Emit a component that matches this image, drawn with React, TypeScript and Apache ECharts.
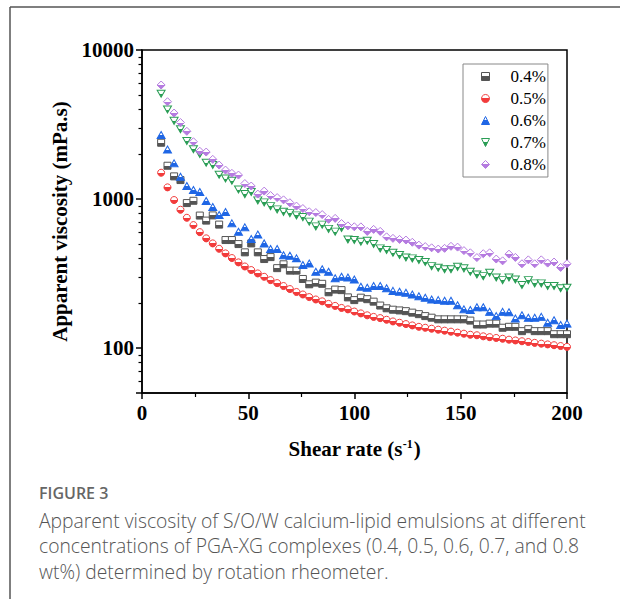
import React, { useEffect, useRef } from 'react';
import * as echarts from 'echarts';

const shearRate = [
  9.0, 12.0, 15.1, 18.1, 21.1, 24.2, 27.2, 30.2, 33.3, 36.3,
  39.3, 42.3, 45.4, 48.4, 51.4, 54.5, 57.5, 60.5, 63.6, 66.6,
  69.6, 72.7, 75.7, 78.7, 81.8, 84.8, 87.8, 90.9, 93.9, 96.9,
  99.9, 103.0, 106.0, 109.0, 112.1, 115.1, 118.1, 121.2, 124.2, 127.2,
  130.3, 133.3, 136.3, 139.4, 142.4, 145.4, 148.5, 151.5, 154.5, 157.6,
  160.6, 163.6, 166.7, 169.7, 172.7, 175.7, 178.8, 181.8, 184.8, 187.9,
  190.9, 193.9, 197.0, 200.0,
];

const visc04 = [
  2387, 1673, 1420, 1341, 940, 974, 775, 717, 777, 674,
  531, 531, 499, 439, 504, 439, 396, 408, 344, 365,
  331, 331, 291, 268, 275, 270, 237, 247, 245, 219,
  210, 218, 213, 205, 193, 185, 181, 179, 177, 173,
  169, 164, 160, 156, 156, 156, 156, 156, 153, 144,
  144, 146, 146, 137, 139, 139, 130, 134, 130, 130,
  130, 124, 124, 124,
];
const visc05 = [
  1502, 1198, 985, 848, 749, 669, 600, 545, 504, 464,
  432, 402, 376, 353, 334, 317, 301, 286, 273, 261,
  249, 238, 229, 220, 212, 206, 198, 192, 186, 182,
  176, 171, 166, 162, 159, 155, 151, 148, 145, 142,
  139, 137, 135, 133, 131, 129, 127, 125, 123, 122,
  120, 118.5, 117, 115.6, 114, 112.6, 111.2, 109.9, 108.5, 107.2,
  105.9, 104.6, 103.3, 102,
];
const visc06 = [
  2689, 2149, 1736, 1412, 1223, 1149, 1114, 970, 884, 781,
  818, 687, 603, 646, 539, 578, 504, 462, 462, 420,
  417, 400, 361, 370, 325, 338, 325, 294, 301, 298,
  289, 258, 254, 261, 261, 252, 242, 239, 235, 229,
  223, 218, 212, 210, 208, 208, 194, 182, 180, 188,
  188, 175, 164, 175, 174, 158, 166, 160, 160, 162,
  148, 154, 143, 146,
];
const visc07 = [
  5090, 3987, 3348, 2937, 2451, 2156, 2005, 1752, 1691, 1456,
  1373, 1327, 1158, 1080, 1114, 980, 950, 897, 853, 821,
  805, 777, 757, 706, 656, 674, 631, 605, 639, 536,
  531, 517, 525, 499, 467, 455, 436, 421, 406, 400,
  390, 378, 355, 346, 338, 338, 351, 343, 325, 312,
  304, 320, 298, 286, 298, 289, 265, 286, 272, 272,
  261, 261, 252, 254,
];
const visc08 = [
  5823, 4498, 3777, 3262, 2848, 2424, 2093, 2067, 1847, 1691,
  1565, 1488, 1449, 1271, 1223, 1080, 1131, 1056, 1023, 988,
  945, 897, 864, 822, 812, 787, 731, 742, 685, 661,
  652, 651, 607, 626, 607, 558, 545, 536, 531, 513,
  491, 480, 471, 462, 467, 482, 476, 451, 436, 405,
  430, 436, 396, 385, 427, 406, 368, 391, 368, 391,
  372, 378, 348, 368,
];

const seriesNames = ['0.4%', '0.5%', '0.6%', '0.7%', '0.8%'];
const seriesValues = [visc04, visc05, visc06, visc07, visc08];
const seriesColors = ['#555555', '#f23b3b', '#1f66e5', '#2a9d55', '#b57be0'];
const seriesSymbols = [
  'rect',
  'circle',
  'triangle',
  'path://M0,0 L10,0 L5,9 Z',
  'diamond',
];
const seriesSizes = [7, 7, [8, 7], [8, 7], [8, 8]];
const yTickLabels = ['100', '1000', '10000'];

const xAxisTitle = 'Shear rate (s{sup|-1})';
const yAxisTitle = 'Apparent viscosity (mPa.s)';
const captionTitle = 'FIGURE 3';
const captionLines = [
  'Apparent viscosity of S/O/W calcium-lipid emulsions at different',
  'concentrations of PGA-XG complexes (0.4, 0.5, 0.6, 0.7, and 0.8',
  'wt%) determined by rotation rheometer.',
];

const SERIF = '"Liberation Serif", "Times New Roman", serif';
const SANS = '"Open Sans", "Noto Sans", sans-serif';

function halfFill(c: string) {
  return new echarts.graphic.LinearGradient(0, 0, 0, 1, [
    { offset: 0, color: '#ffffff' },
    { offset: 0.5, color: '#ffffff' },
    { offset: 0.5, color: c },
    { offset: 1, color: c },
  ]);
}

export default function App() {
  const ref = useRef<HTMLDivElement>(null);

  useEffect(() => {
    if (!ref.current) return;
    const chart = echarts.init(ref.current, undefined, { renderer: 'svg' });

    const series = seriesNames.map((name, k) => ({
      name,
      type: 'scatter',
      symbol: seriesSymbols[k],
      symbolSize: seriesSizes[k],
      symbolKeepAspect: false,
      data: shearRate.map((x, i) => [x, seriesValues[k][i]]),
      itemStyle: {
        color: halfFill(seriesColors[k]),
        borderColor: seriesColors[k],
        borderWidth: 1,
        opacity: 1,
      },
      z: 2 + k,
    }));

    const captionGraphics: any[] = [
      {
        type: 'line',
        shape: { x1: 10, y1: 7, x2: 620, y2: 7 },
        style: { stroke: '#555', lineWidth: 1.5 },
        silent: true,
      },
      {
        type: 'line',
        shape: { x1: 10, y1: 7, x2: 10, y2: 599 },
        style: { stroke: '#555', lineWidth: 1.5 },
        silent: true,
      },
      {
        type: 'text',
        x: 39,
        y: 493,
        style: {
          text: captionTitle,
          fontFamily: SANS,
          fontSize: 16,
          fontWeight: 600,
          fill: '#666',
          verticalAlign: 'middle',
        },
      },
      ...captionLines.map((t, i) => ({
        type: 'text',
        x: 39,
        y: 520 + i * 25.5,
        style: {
          text: t,
          fontFamily: SANS,
          fontSize: 19.3,
          fontWeight: 300,
          fill: '#555',
          verticalAlign: 'middle',
        },
      })),
    ];

    chart.setOption({
      animation: false,
      backgroundColor: '#ffffff',
      grid: {
        left: 142,
        right: 53,
        top: 50,
        bottom: 206,
        show: true,
        borderColor: '#000',
        borderWidth: 1.5,
        backgroundColor: 'transparent',
      },
      legend: {
        orient: 'vertical',
        left: 463,
        top: 64,
        padding: [4, 2, 4, 18],
        itemWidth: 8,
        itemHeight: 8,
        itemGap: 5,
        borderColor: '#888',
        borderWidth: 1,
        backgroundColor: '#fff',
        symbolKeepAspect: false,
        itemStyle: { borderWidth: 1 },
        textStyle: {
          fontFamily: SERIF,
          fontSize: 17,
          color: '#000',
          lineHeight: 17,
          padding: [0, 0, 0, 16],
        },
        data: seriesNames,
      },
      xAxis: {
        type: 'value',
        min: 0,
        max: 200,
        interval: 50,
        name: xAxisTitle,
        nameLocation: 'middle',
        nameGap: 45,
        nameTextStyle: {
          fontFamily: SERIF,
          fontWeight: 'bold',
          fontSize: 21,
          color: '#000',
          rich: {
            sup: {
              fontFamily: SERIF,
              fontWeight: 'bold',
              fontSize: 12,
              verticalAlign: 'top',
              color: '#000',
              padding: [0, 1, 0, 0],
            },
          },
        },
        axisLine: { show: true, lineStyle: { color: '#000', width: 1.5 } },
        axisTick: { show: true, inside: false, length: 6, lineStyle: { color: '#000', width: 1.5 } },
        minorTick: { show: true, splitNumber: 2, length: 4, lineStyle: { color: '#000', width: 1.2 } },
        axisLabel: {
          margin: 9,
          fontFamily: SERIF,
          fontWeight: 'bold',
          fontSize: 21,
          color: '#000',
        },
        splitLine: { show: false },
      },
      yAxis: {
        type: 'log',
        logBase: 10,
        min: 50,
        max: 10000,
        name: yAxisTitle,
        nameLocation: 'middle',
        nameRotate: 90,
        nameGap: 69,
        nameTextStyle: {
          fontFamily: SERIF,
          fontWeight: 'bold',
          fontSize: 21,
          color: '#000',
        },
        axisLine: { show: true, lineStyle: { color: '#000', width: 1.5 } },
        axisTick: { show: true, inside: false, length: 6, lineStyle: { color: '#000', width: 1.5 } },
        minorTick: { show: true, splitNumber: 9, length: 3.5, lineStyle: { color: '#000', width: 1.2 } },
        axisLabel: {
          margin: 8,
          fontFamily: SERIF,
          fontWeight: 'bold',
          fontSize: 21,
          color: '#000',
          showMinLabel: false,
          formatter: (v: number) => {
            const s = String(Math.round(v));
            return yTickLabels.includes(s) ? s : '';
          },
        },
        splitLine: { show: false },
        minorSplitLine: { show: false },
      },
      series,
      graphic: captionGraphics,
    });

    return () => chart.dispose();
  }, []);

  return (
    <div
      ref={ref}
      style={{ position: 'fixed', left: 0, top: 0, width: 620, height: 599, background: '#fff' }}
    />
  );
}
